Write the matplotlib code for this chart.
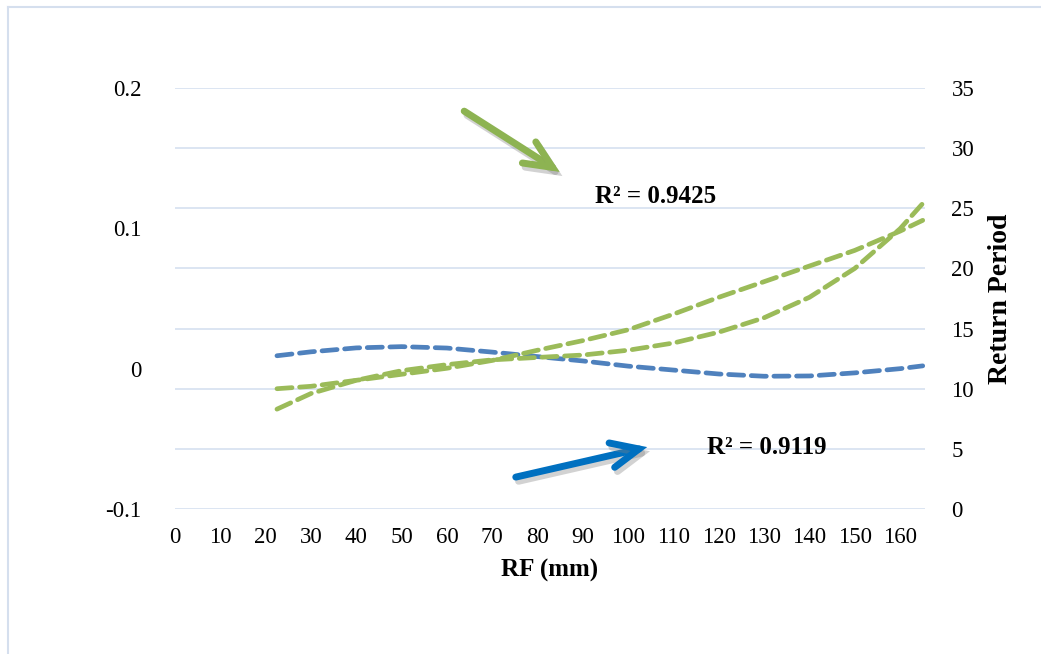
#!/usr/bin/env python3

import matplotlib
matplotlib.use("Agg")
from matplotlib import pyplot as plt
from matplotlib.lines import Line2D
import matplotlib.patheffects as pe

# RF (mm) values where the trend lines were read
rf = [22.5, 30, 40, 50, 60, 70, 80, 90, 100, 110, 120, 130, 140, 150, 160, 165]

# blue trend line (left axis)
blue = [0.0092, 0.0120, 0.0148, 0.0157, 0.0147, 0.0118, 0.0086, 0.0055, 0.0018,
        -0.0010, -0.0038, -0.0054, -0.0052, -0.0030, 0.0000, 0.0020]

# green trend lines (right axis, return period)
greenA = [8.3, 9.6, 10.7, 11.5, 12.0, 12.4, 12.6, 12.8, 13.2, 13.8, 14.7, 15.9,
          17.6, 20.0, 23.3, 25.4]
greenB = [10.0, 10.2, 10.7, 11.2, 11.7, 12.35, 13.2, 14.0, 14.9, 16.2, 17.6, 18.9,
          20.2, 21.5, 23.1, 24.0]

xticks = list(range(0, 161, 10))
lticks = [-0.1, 0, 0.1, 0.2]
lticklabels = ["-0.1", "0", "0.1", "0.2"]
rticks = list(range(0, 36, 5))

r2_green = "R² = 0.9425"
r2_blue = "R² = 0.9119"

BLUE = "#4f81bd"
GREEN = "#9bbb59"
GRID = "#d9e3f1"
FONT = "Liberation Serif"

plt.rcParams["font.family"] = [FONT, "DejaVu Serif"]

fig = plt.figure(figsize=(10.41, 6.54), dpi=100)
ax = fig.add_axes([175/1041, 145/654, 750/1041, 421/654])
ax2 = ax.twinx()

ax.set_xlim(0, 165.5)
ax.set_ylim(-0.1, 0.2)
ax2.set_ylim(0, 35)

# gridlines follow the right axis
ax2.set_yticks(rticks)
ax2.grid(True, axis="y", color=GRID, lw=1.3)
ax2.set_axisbelow(True)

ax.set_yticks(lticks)
ax.set_yticklabels(lticklabels)
ax.set_xticks(xticks)

for a in (ax, ax2):
    for s in a.spines.values():
        s.set_visible(False)
    a.tick_params(length=0, labelsize=16.5)
ax.tick_params(axis="y", pad=24)
ax.tick_params(axis="x", pad=13)
ax2.tick_params(axis="y", pad=19)

dash = (0, (3.2, 1.6))
ax.plot(rf, blue, color=BLUE, lw=3.4, ls=dash, dash_capstyle="round")
ax2.plot(rf, greenA, color=GREEN, lw=3.4, ls=dash, dash_capstyle="round")
ax2.plot(rf, greenB, color=GREEN, lw=3.4, ls=dash, dash_capstyle="round")

ax.set_xlabel("RF (mm)", fontsize=18, fontweight="bold", labelpad=8)
ax2.set_ylabel("Return Period", fontsize=20, fontweight="bold", labelpad=10)

# annotation arrows with a soft shadow
shadow = [pe.SimpleLineShadow(offset=(2, -3), shadow_color="gray", alpha=0.35), pe.Normal()]
style = "->,head_length=1.0,head_width=0.45"
ax2.annotate("", xy=(85.4, 27.9), xytext=(63.3, 33.2),
             arrowprops=dict(arrowstyle=style, mutation_scale=20,
                             color="#8db352", lw=5, capstyle="round",
                             joinstyle="miter", path_effects=shadow))
ax2.annotate("", xy=(104.8, 5.2), xytext=(74.6, 2.6),
             arrowprops=dict(arrowstyle=style, mutation_scale=20,
                             color="#0070c0", lw=5, capstyle="round",
                             joinstyle="miter", path_effects=shadow))

ax2.text(106.0, 26.0, r2_green, fontsize=18, fontweight="bold", ha="center", va="center")
ax2.text(130.6, 5.1, r2_blue, fontsize=18, fontweight="bold", ha="center", va="center")

# chart frame (top and left edges visible)
fig.add_artist(Line2D([8/1041, 1], [1 - 7/654, 1 - 7/654], color="#d5dfee", lw=1.5))
fig.add_artist(Line2D([8/1041, 8/1041], [0, 1 - 7/654], color="#d5dfee", lw=1.5))

fig.savefig("out.png", dpi=100)
